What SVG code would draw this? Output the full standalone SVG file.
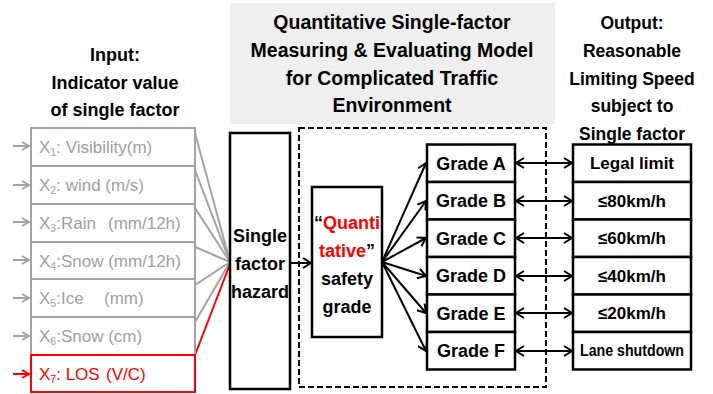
<svg xmlns="http://www.w3.org/2000/svg" width="713" height="394" viewBox="0 0 713 394">
  <defs>
    <style>
      text { font-family: "Liberation Sans", Arial, sans-serif; }
      .hd { font-weight: bold; fill: #000; text-anchor: middle; }
      .in-box { fill: #fff; stroke: #a3a3a3; stroke-width: 2; }
      .in-txt { font-size: 17px; fill: #a0a0a0; }
      .box { fill: #fff; stroke: #000; stroke-width: 2.5; }
      .grade { font-size: 18px; font-weight: bold; text-anchor: middle; }
      .out { font-size: 17px; font-weight: bold; text-anchor: middle; }
      .g-line { fill: none; stroke: #a3a3a3; stroke-width: 2; }
      .r-line { fill: none; stroke: #ff0000; stroke-width: 2; }
      .k-line { fill: none; stroke: #000; stroke-width: 2; }
      .sub { font-size: 10.5px; }
    </style>
    <marker id="ah-gray" markerWidth="10" markerHeight="10" refX="8" refY="5" orient="auto" markerUnits="userSpaceOnUse">
      <path d="M1,1 L8,5 L1,9" fill="none" stroke="#a3a3a3" stroke-width="2"/>
    </marker>
    <marker id="ah-red" markerWidth="10" markerHeight="10" refX="8" refY="5" orient="auto" markerUnits="userSpaceOnUse">
      <path d="M1,1 L8,5 L1,9" fill="none" stroke="#ff0000" stroke-width="2"/>
    </marker>
    <marker id="ah" markerWidth="12" markerHeight="12" refX="10" refY="6" orient="auto-start-reverse" markerUnits="userSpaceOnUse">
      <path d="M2,1 L10,6 L2,11" fill="none" stroke="#000" stroke-width="2"/>
    </marker>
  </defs>

  <rect width="713" height="394" fill="#fff"/>

  <!-- model title band -->
  <g id="title">
    <rect x="230" y="3" width="325" height="121" fill="#efefef"/>
    <text class="hd" font-size="19.5" x="392" y="29">Quantitative Single-factor</text>
    <text class="hd" font-size="19.5" x="392" y="57">Measuring &amp; Evaluating Model</text>
    <text class="hd" font-size="19.5" x="392" y="85">for Complicated Traffic</text>
    <text class="hd" font-size="19.5" x="392" y="112">Environment</text>
  </g>

  <g id="input-heading">
    <text class="hd" font-size="18" x="115" y="61">Input:</text>
    <text class="hd" font-size="18" x="115" y="89">Indicator value</text>
    <text class="hd" font-size="18" x="115" y="116">of single factor</text>
  </g>

  <g id="output-heading">
    <text class="hd" font-size="17.5" x="632" y="29">Output:</text>
    <text class="hd" font-size="17.5" x="632" y="57">Reasonable</text>
    <text class="hd" font-size="17.5" x="632" y="85">Limiting Speed</text>
    <text class="hd" font-size="17.5" x="632" y="112">subject to</text>
    <text class="hd" font-size="17.5" x="632" y="140">Single factor</text>
  </g>

  <!-- connectors -->
  <g id="connectors">
    <!-- input feeds -->
    <line class="g-line" x1="13" y1="146" x2="29" y2="146" marker-end="url(#ah-gray)"/>
    <line class="g-line" x1="13" y1="185" x2="29" y2="185" marker-end="url(#ah-gray)"/>
    <line class="g-line" x1="13" y1="222" x2="29" y2="222" marker-end="url(#ah-gray)"/>
    <line class="g-line" x1="13" y1="260" x2="29" y2="260" marker-end="url(#ah-gray)"/>
    <line class="g-line" x1="13" y1="298" x2="29" y2="298" marker-end="url(#ah-gray)"/>
    <line class="g-line" x1="13" y1="336" x2="29" y2="336" marker-end="url(#ah-gray)"/>
    <line class="r-line" x1="13" y1="374" x2="29" y2="374" marker-end="url(#ah-red)"/>
    <!-- indicators to hazard -->
    <line class="g-line" x1="195" y1="133" x2="230" y2="262"/>
    <line class="g-line" x1="195" y1="170" x2="230" y2="262"/>
    <line class="g-line" x1="195" y1="208" x2="230" y2="262"/>
    <line class="g-line" x1="195" y1="247" x2="230" y2="262"/>
    <line class="g-line" x1="195" y1="285" x2="230" y2="262"/>
    <line class="g-line" x1="195" y1="322" x2="230" y2="262"/>
    <line class="r-line" x1="195" y1="355" x2="230" y2="264"/>
    <!-- hazard to grade -->
    <line class="k-line" x1="290" y1="263" x2="311" y2="263" marker-end="url(#ah)"/>
    <!-- fan out to grades -->
    <line class="k-line" x1="382" y1="262" x2="426" y2="163" marker-end="url(#ah)"/>
    <line class="k-line" x1="382" y1="262" x2="426" y2="201" marker-end="url(#ah)"/>
    <line class="k-line" x1="382" y1="262" x2="426" y2="238" marker-end="url(#ah)"/>
    <line class="k-line" x1="382" y1="262" x2="426" y2="276" marker-end="url(#ah)"/>
    <line class="k-line" x1="382" y1="262" x2="426" y2="313" marker-end="url(#ah)"/>
    <line class="k-line" x1="382" y1="262" x2="426" y2="351" marker-end="url(#ah)"/>
    <!-- grade to speed limit -->
    <line class="k-line" x1="516" y1="163" x2="572" y2="163" marker-start="url(#ah)" marker-end="url(#ah)"/>
    <line class="k-line" x1="516" y1="201" x2="572" y2="201" marker-start="url(#ah)" marker-end="url(#ah)"/>
    <line class="k-line" x1="516" y1="238" x2="572" y2="238" marker-start="url(#ah)" marker-end="url(#ah)"/>
    <line class="k-line" x1="516" y1="276" x2="572" y2="276" marker-start="url(#ah)" marker-end="url(#ah)"/>
    <line class="k-line" x1="516" y1="313" x2="572" y2="313" marker-start="url(#ah)" marker-end="url(#ah)"/>
    <line class="k-line" x1="516" y1="351" x2="572" y2="351" marker-start="url(#ah)" marker-end="url(#ah)"/>
  </g>

  <!-- model boundary -->
  <g id="model-frame">
    <rect x="299" y="128" width="247" height="259" fill="none" stroke="#000" stroke-width="2" stroke-dasharray="6,3"/>
  </g>

  <!-- indicators -->
  <g id="x1"><rect class="in-box" x="31" y="128" width="164" height="38"/><text class="in-txt" x="39" y="153">X<tspan class="sub" dy="3">1</tspan><tspan dy="-3">: Visibility(m)</tspan></text></g>
  <g id="x2"><rect class="in-box" x="31" y="166" width="164" height="38"/><text class="in-txt" x="39" y="191">X<tspan class="sub" dy="3">2</tspan><tspan dy="-3">: wind (m/s)</tspan></text></g>
  <g id="x3"><rect class="in-box" x="31" y="204" width="164" height="38"/><text class="in-txt" x="39" y="229">X<tspan class="sub" dy="3">3</tspan><tspan dy="-3">:Rain</tspan><tspan x="108">(mm/12h)</tspan></text></g>
  <g id="x4"><rect class="in-box" x="31" y="242" width="164" height="37"/><text class="in-txt" x="39" y="267">X<tspan class="sub" dy="3">4</tspan><tspan dy="-3">:Snow (mm/12h)</tspan></text></g>
  <g id="x5"><rect class="in-box" x="31" y="279" width="164" height="38"/><text class="in-txt" x="39" y="304">X<tspan class="sub" dy="3">5</tspan><tspan dy="-3">:Ice</tspan><tspan x="104">(mm)</tspan></text></g>
  <g id="x6"><rect class="in-box" x="31" y="317" width="164" height="38"/><text class="in-txt" x="39" y="342">X<tspan class="sub" dy="3">6</tspan><tspan dy="-3">:Snow (cm)</tspan></text></g>
  <g id="x7"><rect x="31" y="355" width="164" height="37" fill="#fff" stroke="#ff0000" stroke-width="2"/><text class="in-txt" x="39" y="380" style="fill:#ff0000">X<tspan class="sub" dy="3">7</tspan><tspan dy="-3">: LOS</tspan><tspan x="106">(V/C)</tspan></text></g>

  <!-- hazard -->
  <g id="hazard">
    <rect class="box" x="230" y="133" width="60" height="256"/>
    <text class="hd" font-size="18" x="260" y="242">Single</text>
    <text class="hd" font-size="18" x="260" y="270">factor</text>
    <text class="hd" font-size="18" x="260" y="298">hazard</text>
  </g>

  <!-- quantitative safety grade -->
  <g id="safety-grade">
    <rect class="box" x="312" y="187" width="70" height="150"/>
    <text class="hd" font-size="18" x="347" y="229">“<tspan fill="#ff0000">Quanti</tspan></text>
    <text class="hd" font-size="18" x="347" y="257"><tspan fill="#ff0000">tative</tspan>”</text>
    <text class="hd" font-size="18" x="347" y="285">safety</text>
    <text class="hd" font-size="18" x="347" y="313">grade</text>
  </g>

  <!-- grades -->
  <g id="grade-a"><rect class="box" x="427" y="144.5" width="88" height="37.5"/><text class="grade" x="471" y="170">Grade A</text></g>
  <g id="grade-b"><rect class="box" x="427" y="182" width="88" height="37.5"/><text class="grade" x="471" y="207">Grade B</text></g>
  <g id="grade-c"><rect class="box" x="427" y="219.5" width="88" height="37.5"/><text class="grade" x="471" y="245">Grade C</text></g>
  <g id="grade-d"><rect class="box" x="427" y="257" width="88" height="37.5"/><text class="grade" x="471" y="282">Grade D</text></g>
  <g id="grade-e"><rect class="box" x="427" y="294.5" width="88" height="37.5"/><text class="grade" x="471" y="320">Grade E</text></g>
  <g id="grade-f"><rect class="box" x="427" y="332" width="88" height="37.5"/><text class="grade" x="471" y="357">Grade F</text></g>

  <!-- speed limits -->
  <g id="limit-a"><rect class="box" x="573" y="144.5" width="118" height="37.5"/><text class="out" font-size="15.5" x="632" y="169">Legal limit</text></g>
  <g id="limit-b"><rect class="box" x="573" y="182" width="118" height="37.5"/><text class="out" x="632" y="207">≤80km/h</text></g>
  <g id="limit-c"><rect class="box" x="573" y="219.5" width="118" height="37.5"/><text class="out" x="632" y="244">≤60km/h</text></g>
  <g id="limit-d"><rect class="box" x="573" y="257" width="118" height="37.5"/><text class="out" x="632" y="282">≤40km/h</text></g>
  <g id="limit-e"><rect class="box" x="573" y="294.5" width="118" height="37.5"/><text class="out" x="632" y="319">≤20km/h</text></g>
  <g id="limit-f"><rect class="box" x="573" y="332" width="118" height="37.5"/><text class="out" font-size="13" x="632" y="356" textLength="104" lengthAdjust="spacingAndGlyphs">Lane shutdown</text></g>
</svg>
